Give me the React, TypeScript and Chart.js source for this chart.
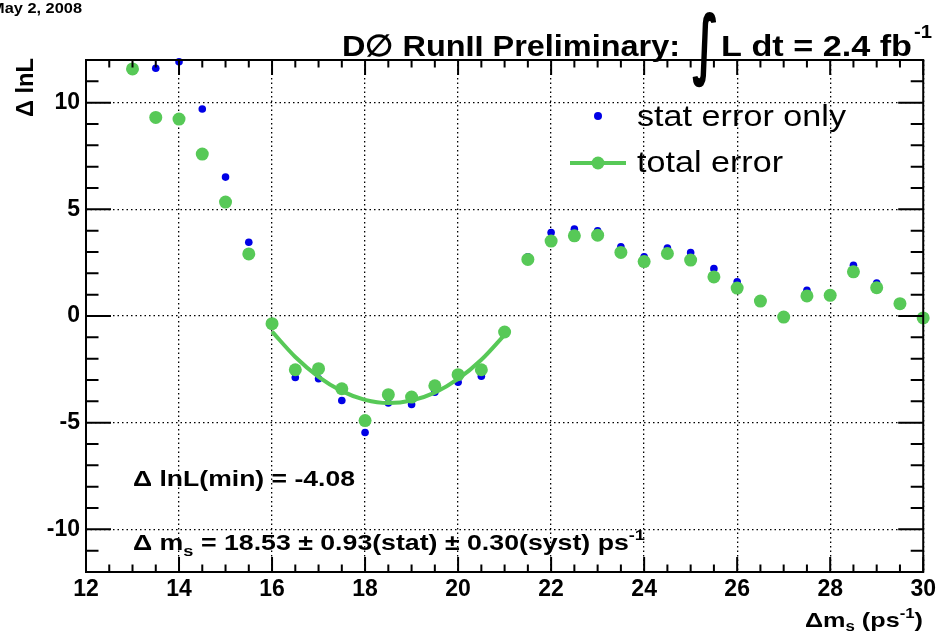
import React, { useEffect, useRef } from 'react';
import { Chart, registerables } from 'chart.js';

Chart.register(...registerables);

// Δm_s scan points (ps^-1)
const massPoints = [
  13, 13.5, 14, 14.5, 15, 15.5, 16, 16.5, 17, 17.5, 18, 18.5, 19, 19.5, 20, 20.5, 21,
  21.5, 22, 22.5, 23, 23.5, 24, 24.5, 25, 25.5, 26, 26.5, 27, 27.5, 28, 28.5, 29, 29.5, 30,
];
// Δ lnL with statistical error only (blue)
const statErrorOnly = [
  11.62, 11.61, 11.92, 9.7, 6.51, 3.46, -0.38, -2.88, -2.94, -3.96, -5.46, -4.08, -4.15, -3.57, -3.1, -2.82, -0.78,
  2.78, 3.91, 4.07, 3.99, 3.24, 2.77, 3.19, 2.97, 2.22, 1.6, 0.74, -0.04, 1.21, 1.0, 2.38, 1.55, 0.6, -0.08,
];
// Δ lnL with total error (green)
const totalError = [
  11.58, 9.31, 9.23, 7.59, 5.34, 2.91, -0.36, -2.52, -2.47, -3.41, -4.9, -3.69, -3.8, -3.27, -2.75, -2.52, -0.75,
  2.65, 3.51, 3.76, 3.79, 2.98, 2.55, 2.93, 2.62, 1.83, 1.31, 0.7, -0.05, 0.94, 0.97, 2.07, 1.33, 0.58, -0.09,
];
// fitted curve
const fitMass = [16, 16.5, 17, 17.5, 18, 18.5, 19, 19.5, 20, 20.5, 21];
const fitCurve = [-0.73, -1.92, -2.85, -3.52, -3.93, -4.08, -3.96, -3.59, -2.95, -2.05, -0.88];

const xTickValues = [12, 14, 16, 18, 20, 22, 24, 26, 28, 30];
const yTickValues = [-10, -5, 0, 5, 10];
const xMin = 12;
const xMax = 30;
const yMin = -12;
const yMax = 12;

const GREEN = '#57c957';
const BLUE = '#0000e6';
const FONT = '"Liberation Sans", Arial, Helvetica, sans-serif';

type Seg = { t: string; size: number; dy?: number; bold?: boolean; family?: string };

function drawSegs(ctx: CanvasRenderingContext2D, segs: Seg[], x: number, y: number, width?: number) {
  let total = 0;
  const fonts = segs.map((s) => `${s.bold === false ? '' : 'bold '}${s.size}px ${s.family || FONT}`);
  const ws = segs.map((s, i) => {
    ctx.font = fonts[i];
    const w = ctx.measureText(s.t).width;
    total += w;
    return w;
  });
  const k = width ? width / total : 1;
  ctx.save();
  ctx.translate(x, y);
  ctx.scale(k, 1);
  ctx.textAlign = 'left';
  ctx.textBaseline = 'alphabetic';
  ctx.fillStyle = '#000';
  let cx = 0;
  segs.forEach((s, i) => {
    ctx.font = fonts[i];
    ctx.fillText(s.t, cx, s.dy || 0);
    cx += ws[i];
  });
  ctx.restore();
}

const decorations = {
  id: 'rootDecorations',
  afterDraw(chart: any) {
    const { ctx, chartArea: a, scales } = chart;
    const xs = scales.x;
    const ys = scales.y;
    ctx.save();
    ctx.strokeStyle = '#000';
    ctx.fillStyle = '#000';

    // ticks (inside the frame, all four sides)
    ctx.lineWidth = 2;
    ctx.beginPath();
    for (let v = xMin; v <= xMax + 1e-9; v += 0.5) {
      const px = xs.getPixelForValue(v);
      const len = Math.abs(v % 2) < 1e-9 ? 15 : 7.5;
      ctx.moveTo(px, a.bottom);
      ctx.lineTo(px, a.bottom - len);
      ctx.moveTo(px, a.top);
      ctx.lineTo(px, a.top + len);
    }
    for (let v = yMin; v <= yMax + 1e-9; v += 1) {
      const py = ys.getPixelForValue(v);
      const len = Math.abs(v % 5) < 1e-9 ? 25 : 12.5;
      ctx.moveTo(a.left, py);
      ctx.lineTo(a.left + len, py);
      ctx.moveTo(a.right, py);
      ctx.lineTo(a.right - len, py);
    }
    ctx.stroke();

    // frame
    ctx.lineWidth = 2;
    ctx.strokeRect(a.left, a.top, a.right - a.left, a.bottom - a.top);

    // date
    drawSegs(ctx, [{ t: 'May 2, 2008', size: 14 }], -9, 13, 91);

    // title
    drawSegs(ctx, [{ t: 'D\u2205 RunII Preliminary:', size: 30 }], 342, 56, 338);
    ctx.save();
    ctx.translate(692, 70);
    ctx.scale(1, 1.75);
    ctx.font = `bold 44px "DejaVu Sans", ${FONT}`;
    ctx.textAlign = 'left';
    ctx.fillText('\u222B', 0, 0);
    ctx.restore();
    drawSegs(ctx, [{ t: 'L dt = 2.4 fb', size: 30 }], 721, 56, 191);
    drawSegs(ctx, [{ t: '-1', size: 18 }], 914, 38, 18);

    // legend
    ctx.fillStyle = BLUE;
    ctx.beginPath();
    ctx.arc(598, 116, 4, 0, Math.PI * 2);
    ctx.fill();
    drawSegs(ctx, [{ t: 'stat error only', size: 29, bold: false }], 637, 126, 209);
    ctx.strokeStyle = GREEN;
    ctx.lineWidth = 4;
    ctx.beginPath();
    ctx.moveTo(570, 163);
    ctx.lineTo(626, 163);
    ctx.stroke();
    ctx.fillStyle = GREEN;
    ctx.beginPath();
    ctx.arc(598, 163, 6.5, 0, Math.PI * 2);
    ctx.fill();
    drawSegs(ctx, [{ t: 'total error', size: 29, bold: false }], 637, 172, 146);

    // annotations
    drawSegs(ctx, [{ t: '\u0394 lnL(min) = -4.08', size: 22 }], 133, 486, 222);
    drawSegs(
      ctx,
      [
        { t: '\u0394 m', size: 22 },
        { t: 's', size: 15, dy: 6 },
        { t: ' = 18.53 \u00B1 0.93(stat) \u00B1 0.30(syst) ps', size: 22 },
        { t: '-1', size: 15, dy: -10 },
      ],
      133,
      550,
      512,
    );

    // axis titles
    drawSegs(
      ctx,
      [
        { t: '\u0394m', size: 21 },
        { t: 's', size: 14, dy: 4 },
        { t: ' (ps', size: 21 },
        { t: '-1', size: 14, dy: -9 },
        { t: ')', size: 21 },
      ],
      805,
      627,
      118,
    );
    ctx.save();
    ctx.translate(33, 117);
    ctx.rotate(-Math.PI / 2);
    drawSegs(ctx, [{ t: '\u0394 lnL', size: 24 }], 0, 0, 59);
    ctx.restore();

    ctx.restore();
  },
};

export default function App() {
  const canvasRef = useRef<HTMLCanvasElement | null>(null);

  useEffect(() => {
    const canvas = canvasRef.current;
    if (!canvas) return;
    const tickFont = { family: FONT, size: 23, weight: 'bold' as const };
    const chart = new Chart(canvas, {
      type: 'scatter',
      data: {
        datasets: [
          {
            label: 'total error',
            data: massPoints.map((m, i) => ({ x: m, y: totalError[i] })),
            backgroundColor: GREEN,
            borderColor: GREEN,
            pointRadius: 6.5,
            pointBorderWidth: 0,
            order: 0,
            clip: false,
          } as any,
          {
            label: 'fit',
            data: fitMass.map((m, i) => ({ x: m, y: fitCurve[i] })),
            showLine: true,
            borderColor: GREEN,
            backgroundColor: GREEN,
            borderWidth: 4,
            pointRadius: 0,
            cubicInterpolationMode: 'monotone',
            order: 1,
            clip: false,
          } as any,
          {
            label: 'stat error only',
            data: massPoints.map((m, i) => ({ x: m, y: statErrorOnly[i] })),
            backgroundColor: BLUE,
            borderColor: BLUE,
            pointRadius: 3.8,
            pointBorderWidth: 0,
            order: 2,
            clip: false,
          } as any,
        ],
      },
      options: {
        responsive: false,
        animation: false,
        devicePixelRatio: 1,
        layout: { padding: { top: 60, right: 13, left: 0, bottom: 0 } },
        plugins: {
          legend: { display: false },
          tooltip: { enabled: false },
        },
        scales: {
          x: {
            type: 'linear',
            min: xMin,
            max: xMax,
            afterBuildTicks: (s: any) => {
              s.ticks = xTickValues.map((v) => ({ value: v }));
            },
            afterFit: (s: any) => {
              s.height = 60;
            },
            grid: { color: '#000', lineWidth: 1.3, drawTicks: false },
            border: { display: false, dash: [1.5, 3] },
            ticks: {
              color: '#000',
              font: tickFont,
              padding: 4,
              maxRotation: 0,
              autoSkip: false,
              callback: (v: any) => String(v),
            },
          },
          y: {
            type: 'linear',
            min: yMin,
            max: yMax,
            afterBuildTicks: (s: any) => {
              s.ticks = yTickValues.map((v) => ({ value: v }));
            },
            afterFit: (s: any) => {
              s.width = 86;
            },
            grid: { color: '#000', lineWidth: 1.3, drawTicks: false },
            border: { display: false, dash: [1.5, 3] },
            ticks: {
              color: '#000',
              font: tickFont,
              padding: 6,
              autoSkip: false,
              callback: (v: any) => String(v),
            },
          },
        },
      } as any,
      plugins: [decorations],
    });
    return () => chart.destroy();
  }, []);

  return (
    <div style={{ position: 'fixed', left: 0, top: 0, width: 940, height: 632, background: '#fff' }}>
      <canvas ref={canvasRef} width={940} height={632} style={{ display: 'block' }} />
    </div>
  );
}
